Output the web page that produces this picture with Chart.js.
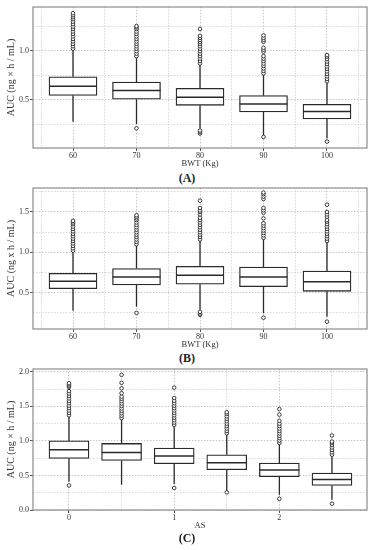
<!DOCTYPE html>
<html>
<head>
<meta charset="utf-8">
<script src="https://cdn.jsdelivr.net/npm/chart.js"></script>
<style>
  body { margin: 0; background: #fff; width: 374px; height: 550px; position: relative; overflow: hidden; font-family: "Liberation Serif", serif; }
  canvas { position: absolute; left: 0; }
  .lab { position: absolute; left: 0; width: 374px; text-align: center; font-size: 12px; line-height: 14px; font-weight: bold; color: #222; }
</style>
</head>
<body>
<canvas id="chartA" width="374" height="170" style="top:0px"></canvas>
<div class="lab" style="top:171px">(A)</div>
<canvas id="chartB" width="374" height="170" style="top:181px"></canvas>
<div class="lab" style="top:351px">(B)</div>
<canvas id="chartC" width="374" height="170" style="top:362px"></canvas>
<div class="lab" style="top:531px">(C)</div>

<script>
// categories
const bwtCats = [60, 70, 80, 90, 100];
const asCats = [0, 0.5, 1, 1.5, 2, 2.5];

// tick values / labels
const bwtTicks = [55, 60, 65, 70, 75, 80, 85, 90, 95, 100, 105];
const bwtLabels = ["", "60", "", "70", "", "80", "", "90", "", "100", ""];
const asTicks = [0, 0.5, 1, 1.5, 2, 2.5];
const asLabels = ["0", "", "1", "", "2", ""];
const aYTicks = [0.25, 0.5, 0.75, 1.0, 1.25];
const aYLabels = ["", "0.5", "", "1.0", ""];
const bYTicks = [0.25, 0.5, 0.75, 1.0, 1.25, 1.5, 1.75];
const bYLabels = ["", "0.5", "", "1.0", "", "1.5", ""];
const cYTicks = [0, 0.25, 0.5, 0.75, 1.0, 1.25, 1.5, 1.75, 2.0];
const cYLabels = ["0.0", "", "0.5", "", "1.0", "", "1.5", "", "2.0"];

// panel A : AUC vs BWT
const aLo = [0.28, 0.257, 0.21, 0.145, 0.11];
const aQ1 = [0.547, 0.507, 0.446, 0.378, 0.307];
const aMed = [0.639, 0.595, 0.527, 0.459, 0.382];
const aQ3 = [0.736, 0.682, 0.618, 0.544, 0.456];
const aHi = [1.007, 0.93, 0.86, 0.76, 0.68];
const aOut = [
  [1.02, 1.045, 1.07, 1.095, 1.12, 1.145, 1.17, 1.195, 1.22, 1.245, 1.27, 1.295, 1.32, 1.34, 1.36, 1.38],
  [0.213, 0.945, 0.97, 0.995, 1.02, 1.045, 1.07, 1.095, 1.12, 1.145, 1.17, 1.195, 1.22, 1.235, 1.25],
  [0.16, 0.175, 0.19, 0.87, 0.895, 0.92, 0.945, 0.97, 0.995, 1.02, 1.045, 1.07, 1.09, 1.11, 1.13, 1.15, 1.22],
  [0.125, 0.77, 0.795, 0.82, 0.845, 0.87, 0.895, 0.92, 0.945, 0.99, 1.01, 1.03, 1.09, 1.11, 1.13, 1.155],
  [0.078, 0.69, 0.715, 0.74, 0.765, 0.79, 0.815, 0.84, 0.865, 0.89, 0.915, 0.94, 0.955]
];

// panel B : AUC vs BWT
const bLo = [0.277, 0.327, 0.29, 0.245, 0.203];
const bQ1 = [0.55, 0.595, 0.604, 0.574, 0.517];
const bMed = [0.641, 0.694, 0.715, 0.694, 0.636];
const bQ3 = [0.74, 0.80, 0.827, 0.818, 0.768];
const bHi = [1.007, 1.09, 1.15, 1.17, 1.13];
const bOut = [
  [1.02, 1.05, 1.08, 1.11, 1.14, 1.17, 1.2, 1.23, 1.26, 1.29, 1.32, 1.35, 1.37, 1.39],
  [0.249, 1.1, 1.13, 1.16, 1.19, 1.22, 1.25, 1.28, 1.31, 1.34, 1.37, 1.4, 1.42, 1.44, 1.46],
  [0.225, 0.243, 0.262, 1.16, 1.19, 1.22, 1.25, 1.28, 1.31, 1.34, 1.37, 1.4, 1.43, 1.47, 1.5, 1.52, 1.55, 1.64],
  [0.19, 1.18, 1.21, 1.24, 1.27, 1.3, 1.33, 1.36, 1.42, 1.49, 1.52, 1.55, 1.66, 1.69, 1.72, 1.74],
  [0.141, 1.14, 1.17, 1.2, 1.23, 1.26, 1.29, 1.32, 1.35, 1.38, 1.4, 1.44, 1.47, 1.5, 1.59]
];

// panel C : AUC vs AS
const cLo = [0.41, 0.366, 0.375, 0.27, 0.221, 0.149];
const cQ1 = [0.746, 0.717, 0.669, 0.582, 0.481, 0.356];
const cMed = [0.871, 0.832, 0.78, 0.683, 0.578, 0.442];
const cQ3 = [1.0, 0.963, 0.896, 0.799, 0.679, 0.535];
const cHi = [1.36, 1.315, 1.218, 1.103, 0.958, 0.789];
const cOut = [
  [0.355, 1.37, 1.405, 1.44, 1.475, 1.51, 1.545, 1.58, 1.615, 1.65, 1.685, 1.72, 1.78, 1.8, 1.82, 1.835],
  [1.33, 1.365, 1.4, 1.435, 1.47, 1.505, 1.54, 1.575, 1.61, 1.64, 1.69, 1.76, 1.84, 1.955],
  [0.318, 1.23, 1.265, 1.3, 1.335, 1.37, 1.405, 1.44, 1.475, 1.51, 1.545, 1.58, 1.62, 1.77],
  [0.255, 1.11, 1.145, 1.18, 1.215, 1.25, 1.285, 1.32, 1.355, 1.39, 1.415],
  [0.163, 0.97, 1.005, 1.04, 1.075, 1.11, 1.145, 1.18, 1.215, 1.25, 1.29, 1.38, 1.46],
  [0.091, 0.8, 0.835, 0.87, 0.905, 0.94, 0.97, 0.99, 1.078]
];

const FONT = "'Liberation Serif', 'Times New Roman', serif";
const INK = "#2a2a2a";

function makePanel(id, p) {
  // whiskers, medians and the plot frame
  const boxParts = {
    id: "boxParts",
    beforeDatasetsDraw: (chart) => {
      const ctx = chart.ctx;
      const y = chart.scales.y;
      ctx.save();
      ctx.strokeStyle = INK;
      ctx.lineWidth = 1.3;
      chart.getDatasetMeta(0).data.forEach((bar, i) => {
        ctx.beginPath();
        ctx.moveTo(bar.x, y.getPixelForValue(p.q3[i]));
        ctx.lineTo(bar.x, y.getPixelForValue(p.hi[i]));
        ctx.moveTo(bar.x, y.getPixelForValue(p.q1[i]));
        ctx.lineTo(bar.x, y.getPixelForValue(p.lo[i]));
        ctx.stroke();
      });
      ctx.restore();
    },
    afterDatasetsDraw: (chart) => {
      const ctx = chart.ctx;
      const y = chart.scales.y;
      ctx.save();
      ctx.strokeStyle = INK;
      ctx.lineWidth = 1.5;
      chart.getDatasetMeta(0).data.forEach((bar, i) => {
        const py = y.getPixelForValue(p.med[i]);
        ctx.beginPath();
        ctx.moveTo(bar.x - bar.width / 2, py);
        ctx.lineTo(bar.x + bar.width / 2, py);
        ctx.stroke();
      });
      ctx.restore();
    },
    afterDraw: (chart) => {
      const a = chart.chartArea;
      const ctx = chart.ctx;
      ctx.save();
      ctx.strokeStyle = "#8c8c8c";
      ctx.lineWidth = 1.2;
      ctx.strokeRect(a.left, a.top, a.right - a.left, a.bottom - a.top);
      ctx.restore();
    },
  };

  const outPts = [];
  p.cats.forEach((c, i) => p.out[i].forEach((v) => outPts.push({ x: c, y: v })));

  return new Chart(document.getElementById(id), {
    type: "bar",
    data: {
      datasets: [
        {
          label: "box",
          data: p.cats.map((c, i) => ({ x: c, y: [p.q1[i], p.q3[i]] })),
          backgroundColor: "#ffffff",
          borderColor: INK,
          borderWidth: 1.3,
          borderSkipped: false,
          barThickness: p.boxWidth,
        },
        {
          type: "scatter",
          label: "outliers",
          data: outPts,
          pointRadius: 1.8,
          pointBorderWidth: 0.9,
          pointBorderColor: INK,
          pointBackgroundColor: "#ffffff",
        },
      ],
    },
    plugins: [boxParts],
    options: {
      responsive: false,
      animation: false,
      layout: { padding: { top: 7, right: 7, bottom: 0, left: 0 } },
      plugins: { legend: { display: false }, tooltip: { enabled: false } },
      scales: {
        x: {
          type: "linear",
          min: p.xMin,
          max: p.xMax,
          offset: false,
          afterBuildTicks: (s) => { s.ticks = p.xTicks.map((v) => ({ value: v })); },
          afterFit: (s) => { s.height = 22; },
          grid: {
            offset: false,
            color: (c) => (p.xLabels[c.index] ? "#b8b8b8" : "#cfcfcf"),
            lineWidth: 0.8,
            tickLength: 3,
            tickWidth: 1,
            tickColor: (c) => (p.xLabels[c.index] ? "#555" : "rgba(0,0,0,0)"),
          },
          border: { display: false, dash: [1.5, 1.5] },
          ticks: {
            autoSkip: false,
            maxRotation: 0,
            padding: 0,
            color: "#333",
            font: { family: FONT, size: 8 },
            callback: (v, i) => p.xLabels[i],
          },
          title: {
            display: true,
            text: p.xTitle,
            color: "#333",
            font: { family: FONT, size: 8.5 },
            padding: { top: 0, bottom: 1 },
          },
        },
        y: {
          min: p.yMin,
          max: p.yMax,
          afterBuildTicks: (s) => { s.ticks = p.yTicks.map((v) => ({ value: v })); },
          afterFit: (s) => { s.width = 33; },
          grid: {
            color: (c) => (p.yLabels[c.index] ? "#b8b8b8" : "#cfcfcf"),
            lineWidth: 0.8,
            tickLength: 3,
            tickWidth: 1,
            tickColor: (c) => (p.yLabels[c.index] ? "#555" : "rgba(0,0,0,0)"),
          },
          border: { display: false, dash: [1.5, 1.5] },
          ticks: {
            autoSkip: false,
            padding: 1,
            color: "#333",
            font: { family: FONT, size: 8 },
            callback: (v, i) => p.yLabels[i],
          },
          title: {
            display: true,
            text: p.yTitle,
            color: "#333",
            font: { family: FONT, size: 10 },
            padding: { top: 5, bottom: 0 },
          },
        },
      },
    },
  });
}

makePanel("chartA", {
  cats: bwtCats, lo: aLo, q1: aQ1, med: aMed, q3: aQ3, hi: aHi, out: aOut,
  xMin: 53.7, xMax: 106.3, xTicks: bwtTicks, xLabels: bwtLabels,
  yMin: 0.013, yMax: 1.443, yTicks: aYTicks, yLabels: aYLabels,
  xTitle: "BWT (Kg)", yTitle: "AUC (ng × h / mL)", boxWidth: 48,
});

makePanel("chartB", {
  cats: bwtCats, lo: bLo, q1: bQ1, med: bMed, q3: bQ3, hi: bHi, out: bOut,
  xMin: 53.7, xMax: 106.3, xTicks: bwtTicks, xLabels: bwtLabels,
  yMin: 0.05, yMax: 1.797, yTicks: bYTicks, yLabels: bYLabels,
  xTitle: "BWT (Kg)", yTitle: "AUC (ng x h / mL)", boxWidth: 48,
});

makePanel("chartC", {
  cats: asCats, lo: cLo, q1: cQ1, med: cMed, q3: cQ3, hi: cHi, out: cOut,
  xMin: -0.342, xMax: 2.833, xTicks: asTicks, xLabels: asLabels,
  yMin: 0, yMax: 2.04, yTicks: cYTicks, yLabels: cYLabels,
  xTitle: "AS", yTitle: "AUC (ng × h / mL)", boxWidth: 40,
});
</script>
</body>
</html>
